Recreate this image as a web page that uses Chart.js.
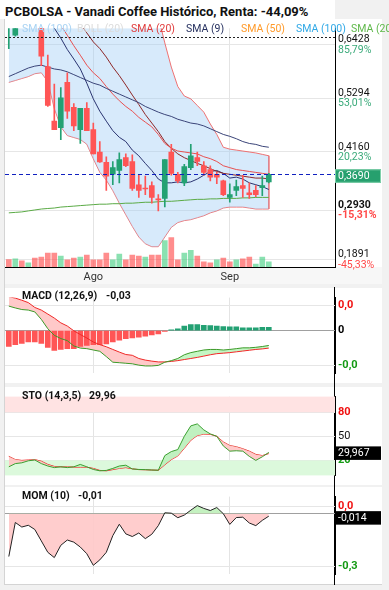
<!DOCTYPE html>
<html><head><meta charset="utf-8">
<script src="https://cdn.jsdelivr.net/npm/chart.js@4.4.1/dist/chart.umd.min.js"></script>
<style>
html,body{margin:0;padding:0;background:#f1f1f1;width:389px;height:590px;overflow:hidden;font-family:Roboto,'Noto Sans',sans-serif;}
.box{position:absolute;}
canvas{position:absolute;left:0;}
.lab{position:absolute;white-space:nowrap;line-height:12px;height:12px;}
</style></head><body>
<div class="box" style="left:0;top:0;width:335px;height:19px;background:#fff"></div>
<div class="box" style="left:4px;top:19px;width:378px;height:248px;background:#fff"></div>
<div class="box" style="left:4px;top:267px;width:378px;height:17px;background:#f7f7f7"></div>
<div class="box" style="left:4px;top:288px;width:378px;height:95px;background:#fff"></div>
<div class="box" style="left:4px;top:387px;width:378px;height:98px;background:#fff"></div>
<div class="box" style="left:4px;top:487px;width:378px;height:97px;background:#fff"></div>
<div class="box" style="left:4px;top:19px;width:1px;height:566px;background:#d4d4d4"></div>
<div class="box" style="left:4px;top:584px;width:378px;height:1px;background:#d4d4d4"></div>
<div class="box" style="left:334px;top:287px;width:1px;height:298px;background:#000"></div>

<canvas id="c1" width="389" height="268" style="top:19px"></canvas>
<canvas id="c2" width="389" height="95" style="top:288px"></canvas>
<canvas id="c3" width="389" height="98" style="top:387px"></canvas>
<canvas id="c4" width="389" height="97" style="top:487px"></canvas>

<div class="lab" style="left:5px;top:5px;height:14px;line-height:14px;font-weight:bold;font-size:13px;color:#111">PCBOLSA - Vanadi Coffee Histórico, Renta: -44,09%</div>
<div class="lab" style="left:22px;top:23px;font-size:10.5px;color:#a9d3f3">SMA (100)</div>
<div class="lab" style="left:77px;top:23px;font-size:10.5px;color:#dcdcdc">BOLL (20)</div>
<div class="lab" style="left:131px;top:23px;font-size:10.5px;color:#e03a3a">SMA (20)</div>
<div class="lab" style="left:186px;top:23px;font-size:10.5px;color:#25305f">SMA (9)</div>
<div class="lab" style="left:241px;top:23px;font-size:10.5px;color:#ff9a2a">SMA (50)</div>
<div class="lab" style="left:296px;top:23px;font-size:10.5px;color:#2fa8e6">SMA (100)</div>
<div class="lab" style="left:351px;top:23px;font-size:10.5px;color:#5fb84a">SMA (200)</div>

<div class="lab" style="left:22px;top:290px;font-weight:bold;font-size:10.5px;color:#111">MACD (12,26,9)</div>
<div class="lab" style="left:106px;top:290px;font-weight:bold;font-size:10.5px;color:#111">-0,03</div>
<div class="lab" style="left:22px;top:390px;font-weight:bold;font-size:10.5px;color:#111">STO (14,3,5)</div>
<div class="lab" style="left:89px;top:390px;font-weight:bold;font-size:10.5px;color:#111">29,96</div>
<div class="lab" style="left:22px;top:490px;font-weight:bold;font-size:10.5px;color:#111">MOM (10)</div>
<div class="lab" style="left:78px;top:490px;font-weight:bold;font-size:10.5px;color:#111">-0,01</div>

<script>
// ---------- DATA ----------
const categories = ['2022-07-13','2022-07-14','2022-07-15','2022-07-18','2022-07-19','2022-07-20','2022-07-21','2022-07-22','2022-07-25','2022-07-26','2022-07-27','2022-07-28','2022-07-29',
 '2022-08-01','2022-08-02','2022-08-03','2022-08-04','2022-08-05','2022-08-08','2022-08-09','2022-08-10','2022-08-11','2022-08-12','2022-08-16','2022-08-17','2022-08-18','2022-08-19','2022-08-22','2022-08-23','2022-08-24','2022-08-25','2022-08-26','2022-08-29','2022-08-30',
 '2022-09-01','2022-09-02','2022-09-05','2022-09-06','2022-09-07','2022-09-08','2022-09-09'];
const monthNamesEs = ['Ene','Feb','Mar','Abr','May','Jun','Jul','Ago','Sep','Oct','Nov','Dic'];

const open  = [0.690,0.662,0.740,0.700,0.730,0.700,0.596,0.481,0.467,0.563,0.510,0.463,0.508,0.463,0.416,0.394,0.369,0.377,0.404,0.396,0.347,0.340,0.345,0.317,0.318,0.416,0.369,0.351,0.383,0.404,0.387,0.379,0.369,0.355,0.320,0.335,0.345,0.330,0.335,0.341,0.353];
const high  = [0.740,0.720,0.750,0.740,0.740,0.710,0.620,0.559,0.552,0.583,0.518,0.508,0.520,0.477,0.438,0.406,0.396,0.414,0.412,0.410,0.369,0.365,0.353,0.326,0.400,0.432,0.373,0.390,0.432,0.416,0.396,0.387,0.373,0.357,0.349,0.357,0.367,0.351,0.345,0.365,0.371];
const low   = [0.634,0.660,0.690,0.690,0.685,0.598,0.512,0.463,0.442,0.487,0.461,0.434,0.461,0.412,0.394,0.335,0.347,0.351,0.385,0.335,0.320,0.326,0.308,0.292,0.300,0.367,0.351,0.345,0.379,0.387,0.367,0.355,0.349,0.324,0.310,0.324,0.320,0.318,0.322,0.324,0.351];
const close = [0.720,0.700,0.710,0.730,0.700,0.618,0.514,0.463,0.530,0.502,0.471,0.508,0.461,0.412,0.395,0.365,0.383,0.400,0.387,0.339,0.335,0.338,0.320,0.315,0.400,0.371,0.355,0.385,0.408,0.396,0.373,0.363,0.363,0.326,0.326,0.343,0.339,0.326,0.326,0.345,0.369];
const volume = [23,25,19,13,28,31,43,43,34,22,28,31,37,22,22,43,22,40,22,37,34,31,37,37,82,91,22,43,52,34,16,13,22,28,16,22,25,31,9,31,16];
const volumeUp = [0,1,0,1,0,0,0,0,1,0,0,1,0,0,0,0,1,1,0,0,0,1,0,0,1,0,0,1,1,0,0,0,1,0,0,1,0,0,1,1,1];

const bollUpper = [0.941,0.940,0.944,0.947,0.945,0.943,0.953,0.993,1.007,0.997,0.964,0.932,0.901,0.895,0.895,0.874,0.856,0.846,0.829,0.813,0.795,0.768,0.738,0.701,0.646,0.595,0.554,0.534,0.528,0.514,0.500,0.475,0.453,0.426,0.422,0.420,0.418,0.416,0.414,0.411,0.408];
const bollMid   = [0.750,0.754,0.758,0.760,0.762,0.762,0.758,0.750,0.738,0.724,0.705,0.687,0.667,0.648,0.634,0.616,0.595,0.577,0.557,0.536,0.516,0.495,0.477,0.459,0.438,0.424,0.412,0.404,0.398,0.392,0.387,0.381,0.375,0.371,0.369,0.367,0.365,0.363,0.361,0.361,0.359];
const bollLower = [0.5627,0.5667,0.5708,0.5749,0.5810,0.5830,0.5647,0.5077,0.4690,0.4506,0.4465,0.4425,0.4323,0.4017,0.3732,0.3569,0.3345,0.3081,0.2836,0.2592,0.2368,0.2226,0.2164,0.2164,0.2368,0.2571,0.2673,0.2714,0.2734,0.2775,0.2816,0.2877,0.2918,0.2979,0.2999,0.2999,0.2999,0.2979,0.2958,0.2958,0.2958];
const sma20 = [0.728,0.724,0.717,0.713,0.709,0.707,0.705,0.697,0.683,0.662,0.640,0.620,0.599,0.583,0.571,0.554,0.538,0.524,0.512,0.502,0.489,0.479,0.469,0.453,0.434,0.424,0.418,0.416,0.414,0.412,0.406,0.402,0.396,0.387,0.383,0.379,0.377,0.375,0.373,0.371,0.369];
const sma9  = [0.738,0.743,0.747,0.743,0.734,0.717,0.697,0.677,0.656,0.632,0.612,0.591,0.561,0.528,0.502,0.481,0.461,0.447,0.438,0.420,0.408,0.392,0.377,0.359,0.351,0.351,0.353,0.351,0.353,0.359,0.367,0.375,0.377,0.371,0.361,0.363,0.359,0.351,0.347,0.343,0.337];
const sma100 = [0.575,0.581,0.587,0.593,0.597,0.599,0.595,0.591,0.589,0.585,0.579,0.573,0.567,0.561,0.557,0.550,0.544,0.538,0.532,0.526,0.520,0.512,0.506,0.500,0.495,0.491,0.485,0.481,0.477,0.475,0.471,0.465,0.459,0.453,0.449,0.444,0.438,0.434,0.432,0.428,0.426];
const sma200 = [0.2877,0.2887,0.2897,0.2918,0.2938,0.2958,0.2969,0.2979,0.2999,0.3009,0.3019,0.3030,0.3040,0.3050,0.3060,0.3060,0.3070,0.3070,0.3081,0.3081,0.3091,0.3101,0.3101,0.3111,0.3121,0.3121,0.3131,0.3142,0.3152,0.3162,0.3162,0.3172,0.3172,0.3182,0.3182,0.3182,0.3193,0.3193,0.3203,0.3203,0.3203];

const priceTicks = [0.6428,0.5294,0.4160,0.2930,0.1891];
const pctLabels  = ['85,79%','53,01%','20,23%','-15,31%','-45,33%'];
const highLine = 0.658;

const macdLine = [0.0492,0.0455,0.0423,0.0412,0.0375,0.0225,0.0037,-0.0096,-0.0161,-0.0203,-0.0310,-0.0353,-0.0364,-0.0391,-0.0417,-0.0524,-0.0637,-0.0647,-0.0658,-0.0669,-0.0696,-0.0712,-0.0712,-0.0701,-0.0637,-0.0605,-0.0562,-0.0487,-0.0444,-0.0417,-0.0391,-0.0380,-0.0380,-0.0391,-0.0380,-0.0364,-0.0348,-0.0348,-0.0337,-0.0321,-0.0300];
const macdSignal = [0.0680,0.0653,0.0610,0.0562,0.0465,0.0412,0.0332,0.0251,0.0155,0.0091,-0.0005,-0.0080,-0.0150,-0.0230,-0.0284,-0.0326,-0.0380,-0.0433,-0.0482,-0.0498,-0.0562,-0.0594,-0.0615,-0.0631,-0.0631,-0.0621,-0.0605,-0.0583,-0.0562,-0.0540,-0.0514,-0.0487,-0.0465,-0.0455,-0.0444,-0.0428,-0.0412,-0.0396,-0.0380,-0.0369,-0.0353];
const macdHist = [-0.0321,-0.0284,-0.0257,-0.0230,-0.0230,-0.0257,-0.0337,-0.0401,-0.0380,-0.0364,-0.0364,-0.0321,-0.0300,-0.0284,-0.0284,-0.0268,-0.0230,-0.0193,-0.0161,-0.0150,-0.0134,-0.0112,-0.0086,-0.0070,-0.0016,0.0016,0.0037,0.0091,0.0118,0.0118,0.0107,0.0102,0.0091,0.0080,0.0075,0.0075,0.0054,0.0054,0.0054,0.0064,0.0064];
const macdTicks = [0.05, 0, -0.07];
const macdTickLabels = ['0,0','0','-0,0'];

const stoK = [12,16,17,19.5,20.5,16,13,11,12,11,12,15,12,8.7,7,7.5,10,13,14,9.3,8.7,8.5,8,7.7,26,31,33.5,50,63,65.5,58,53,50,38,31.5,32,31.5,25,20,24.5,29.967];
const stoD = [25,21,20,20.5,21,19,15,12.5,12,12,11.7,11.5,11.5,10,7.5,7,8.5,10,11,9.5,8.5,8.3,8,7.7,14.5,21,25.5,35,45,51,52.7,52.5,50,43,38.5,37,34.5,31.5,27.5,26,28.5];
const stoTicks = [80, 50, 20];

const mom = [-0.244,-0.050,-0.076,-0.066,-0.090,-0.155,-0.220,-0.250,-0.180,-0.150,-0.162,-0.190,-0.228,-0.294,-0.263,-0.220,-0.125,-0.060,-0.115,-0.130,-0.110,-0.142,-0.117,-0.068,0.005,0.003,-0.023,-0.008,0.020,0.046,0.030,0.018,0.035,0.000,-0.061,-0.022,-0.020,-0.053,-0.068,-0.038,-0.014];
const momTicks = [0.04, 0, -0.3];
const momTickLabels = ['0,0','','-0,3'];

// ---------- helpers ----------
const GREEN = '#23a173', RED = '#ff5555';
const pts = arr => arr.map((v,i)=>({x:i,y:v}));
const fmt = (v,d) => v.toFixed(d).replace('.',',');
const monthIdx = [], monthLab = [];
categories.forEach((d,i)=>{ if(i>0 && d.slice(5,7)!==categories[i-1].slice(5,7)){ monthIdx.push(i); monthLab.push(monthNamesEs[+d.slice(5,7)-1]); }});
const xMin = -0.585, xMax = 50.185;

const extras = {
  id:'extras',
  beforeDatasetsDraw(chart, args, o){
    const {ctx, chartArea:a} = chart; const y = chart.scales.y;
    (o.bands||[]).forEach(b=>{
      let p1=y.getPixelForValue(b.from), p2=y.getPixelForValue(b.to);
      const t=Math.max(a.top,Math.min(p1,p2)), bt=Math.min(a.bottom,Math.max(p1,p2));
      ctx.save(); ctx.fillStyle=b.color; ctx.fillRect(a.left,t,a.right-a.left,bt-t); ctx.restore();
    });
  },
  afterDatasetsDraw(chart, args, o){
    const {ctx, chartArea:a} = chart; const y = chart.scales.y;
    (o.hlines||[]).forEach(h=>{
      const p=Math.round(y.getPixelForValue(h.value))+0.5;
      ctx.save(); ctx.strokeStyle=h.color; ctx.lineWidth=1; ctx.setLineDash(h.dash);
      ctx.beginPath(); ctx.moveTo(a.left,p); ctx.lineTo(a.right,p); ctx.stroke(); ctx.restore();
    });
  },
  afterDraw(chart, args, o){
    const {ctx} = chart; const y = chart.scales.y;
    (o.pct||[]).forEach(pc=>{
      const p=y.getPixelForValue(pc.value);
      ctx.save(); ctx.font=(pc.bold?'bold ':'')+'10.5px Roboto'; ctx.fillStyle=pc.color; ctx.textBaseline='middle'; ctx.textAlign='left';
      ctx.fillText(pc.text, y.left+3, p+5.5); ctx.restore();
    });
    (o.tags||[]).forEach(tg=>{
      const p=y.getPixelForValue(tg.value);
      ctx.save(); ctx.fillStyle=tg.bg; ctx.fillRect(y.left, p-6+tg.dy, 46, 13.5);
      if(tg.border){ctx.strokeStyle=tg.border; ctx.lineWidth=1; ctx.strokeRect(y.left+0.5, p-6+tg.dy+0.5, 45, 12.5);}
      ctx.font='10.5px Roboto'; ctx.fillStyle='#fff'; ctx.textBaseline='middle'; ctx.textAlign='left';
      ctx.fillText(tg.text, y.left+3, p+1+tg.dy); ctx.restore();
    });
  }
};

function xScale(show){
  return {
    type:'linear', min:xMin, max:xMax, bounds:'data', offset:false,
    afterBuildTicks: ax=>{ ax.ticks = monthIdx.map(v=>({value:v})); },
    ticks:{display:show, autoSkip:false, maxRotation:0, padding:4, color:'#333', font:{size:11, family:'Roboto'}, callback:(v,i)=>monthLab[i]},
    grid:{color:'#e4e4e4', drawTicks:false, offset:false},
    border:{display:show, color:'#000', width:1},
    afterFit: ax=>{ ax.height = show?20:0; }
  };
}
function yScale(min,max,ticks,labels,colorFn,fontFn,gridFn,extra){
  return Object.assign({
    position:'right', min, max, bounds:'data',
    afterBuildTicks: ax=>{ ax.ticks = ticks.map(v=>({value:v})); },
    ticks:{autoSkip:false, padding:3, callback:(v,i)=>labels[i], color:colorFn, font:fontFn},
    grid:{drawTicks:false, color:gridFn||'#e6e6e6'},
    border:{display:true, color:'#000', width:1},
    afterFit: ax=>{ ax.width = 54; }
  }, extra||{});
}
const base = {responsive:false, animation:false, events:[], layout:{padding:{left:5,right:0,top:0,bottom:0}, autoPadding:false},
  plugins:{legend:{display:false}, tooltip:{enabled:false}}};
Chart.defaults.font.family = 'Roboto';

// ---------- main price chart ----------
const candleCol = close.map((c,i)=> c>=open[i] ? GREEN : RED);
const last = close[close.length-1];
new Chart(document.getElementById('c1'), {
  type:'bar',
  data:{datasets:[
    {type:'line', data:pts(bollUpper), borderColor:'rgba(238,100,100,0.9)', borderWidth:1, pointRadius:0, fill:'+1', backgroundColor:'rgba(160,205,245,0.42)', order:20},
    {type:'line', data:pts(bollLower), borderColor:'rgba(238,100,100,0.9)', borderWidth:1, pointRadius:0, fill:false, order:20},
    {type:'line', data:[{x:bollUpper.length-1,y:bollUpper[bollUpper.length-1]},{x:bollLower.length-1,y:bollLower[bollLower.length-1]}], borderColor:'rgba(238,100,100,0.9)', borderWidth:1, pointRadius:0, fill:false, order:20},
    {type:'bar', data:pts(volume.map(v=>v*1000)), yAxisID:'yv', backgroundColor:volumeUp.map(u=>u?'rgba(60,205,125,0.6)':'rgba(255,80,80,0.65)'), barThickness:5, borderWidth:0, order:15},
    {type:'line', data:pts(sma200), borderColor:'#5aaa45', borderWidth:1, pointRadius:0, fill:false, order:10},
    {type:'line', data:pts(sma100), borderColor:'#3a4478', borderWidth:1, pointRadius:0, fill:false, order:10},
    {type:'line', data:pts(sma20), borderColor:'#e85050', borderWidth:1, pointRadius:0, fill:false, order:10},
    {type:'line', data:pts(bollMid), borderColor:'#8e2828', borderWidth:1, pointRadius:0, fill:false, order:10},
    {type:'line', data:pts(sma9), borderColor:'#2a3470', borderWidth:1, pointRadius:0, fill:false, order:10},
    {type:'bar', data:low.map((l,i)=>({x:i,y:[l,high[i]]})), backgroundColor:candleCol, barThickness:1, borderWidth:0, order:2},
    {type:'bar', data:open.map((o,i)=>({x:i,y:[o,close[i]]})), backgroundColor:candleCol, barThickness:5, minBarLength:1, borderWidth:0, order:1}
  ]},
  options:Object.assign({}, base, {
    layout:{padding:{left:5,right:0,top:1,bottom:0}, autoPadding:false},
    datasets:{bar:{grouped:false}},
    plugins:Object.assign({}, base.plugins, {extras:{
      hlines:[{value:last, color:'#1020c0', dash:[4,3]},{value:highLine, color:'#222', dash:[2,2]}],
      pct: priceTicks.map((v,i)=>({value:v, text:pctLabels[i], color: v>=0.346?'#3aaa7a':'#ff4848', bold: i===3})),
      tags:[{value:last, text:fmt(last,4), bg:'#26a06e', dy:1, border:'#7fd0aa'}]
    }}),
    scales:{
      x:xScale(true),
      y:yScale(0.1736, 0.6767, priceTicks, priceTicks.map(v=>fmt(v,4)), '#111',
        ctx=>({size:10.5, family:'Roboto', weight: ctx.index===3?'bold':'normal'}), '#e6e6e6',
        {ticks:{autoSkip:false, padding:3, labelOffset:-5, callback:(v,i)=>fmt(priceTicks[i],4), color:'#111', font:ctx=>({size:10.5, family:'Roboto', weight: ctx.index===3?'bold':'normal'})}}),
      yv:{display:false, min:0, max:741000}
    }
  }),
  plugins:[extras]
});

// ---------- MACD ----------
new Chart(document.getElementById('c2'), {
  type:'bar',
  data:{datasets:[
    {type:'line', data:pts(macdLine), borderColor:'#3c9a28', borderWidth:1, pointRadius:0, fill:{target:1, above:'rgba(190,245,190,0.9)', below:'rgba(255,195,195,0.9)'}, order:1},
    {type:'line', data:pts(macdSignal), borderColor:'#f02828', borderWidth:1, pointRadius:0, fill:false, order:1},
    {type:'bar', data:pts(macdHist), backgroundColor:macdHist.map(v=>v>=0?GREEN:RED), barThickness:5, borderWidth:0, order:2}
  ]},
  options:Object.assign({}, base, {
    plugins:Object.assign({}, base.plugins, {filler:{drawTime:'beforeDatasetsDraw'}}),
    scales:{
      x:xScale(false),
      y:yScale(-0.0862, 0.0663, macdTicks, macdTickLabels,
        ctx=>['#f01010','#000','#149a14'][ctx.index], {size:11, weight:'bold', family:'Roboto'},
        ctx=>ctx.index===1?'#a0a0a0':'#e6e6e6')
    }
  })
});

// ---------- STO ----------
new Chart(document.getElementById('c3'), {
  type:'line',
  data:{datasets:[
    {data:pts(stoK), borderColor:'#3aa030', borderWidth:1, pointRadius:0, fill:{target:1, above:'rgba(185,240,185,0.9)', below:'rgba(255,195,195,0.9)'}},
    {data:pts(stoD), borderColor:'#f02020', borderWidth:1, pointRadius:0, fill:false}
  ]},
  options:Object.assign({}, base, {
    plugins:Object.assign({}, base.plugins, {extras:{
      bands:[{from:80,to:100,color:'#ffe3e3'},{from:0,to:20,color:'#dcf9dc'}],
      tags:[{value:stoK[stoK.length-1], text:fmt(stoK[stoK.length-1],3), bg:'#000', dy:0}]
    }}),
    scales:{
      x:xScale(false),
      y:yScale(1.3, 99.5, stoTicks, stoTicks.map(String),
        ctx=>['#f01010','#111','#149a14'][ctx.index], ctx=>({size:11, family:'Roboto', weight: ctx.index===1?'normal':'bold'}), '#e6e6e6')
    }
  }),
  plugins:[extras]
});

// ---------- MOM ----------
new Chart(document.getElementById('c4'), {
  type:'line',
  data:{datasets:[
    {data:pts(mom), borderColor:'#222', borderWidth:1, pointRadius:0, fill:{target:{value:0}, above:'rgba(190,240,185,0.9)', below:'rgba(255,200,200,0.9)'}}
  ]},
  options:Object.assign({}, base, {
    plugins:Object.assign({}, base.plugins, {extras:{
      tags:[{value:mom[mom.length-1], text:fmt(mom[mom.length-1],3), bg:'#000', dy:1}]
    }}),
    scales:{
      x:xScale(false),
      y:yScale(-0.3457, 0.0973, momTicks, momTickLabels,
        ctx=>['#f01010','#000','#149a14'][ctx.index], {size:11, weight:'bold', family:'Roboto'},
        ctx=>ctx.index===1?'#a0a0a0':'#e6e6e6')
    }
  }),
  plugins:[extras]
});
</script>
</body></html>
